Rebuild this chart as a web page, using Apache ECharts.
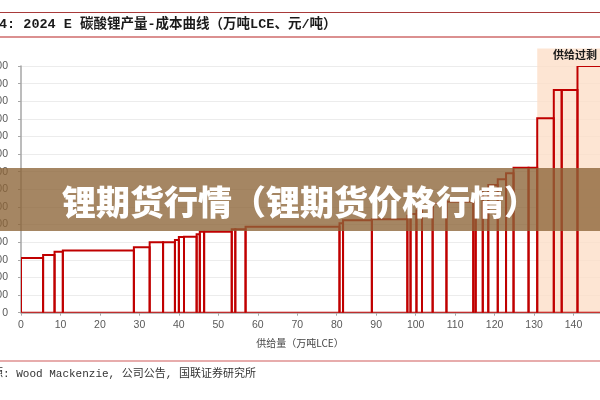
<!DOCTYPE html>
<html><head><meta charset="utf-8">
<script src="https://cdn.jsdelivr.net/npm/echarts@6/dist/echarts.min.js"></script>
<style>html,body{margin:0;padding:0;background:#fff}#c{width:600px;height:400px}</style>
</head><body><div id="c"></div>
<script>
// cumulative supply boundaries (万吨LCE) and unit cost (元/吨) of each project
const supplyBounds = [0, 5.6, 8.5, 10.6, 28.6, 32.6, 36.0, 39.0, 40.0, 41.3, 44.5, 45.3, 46.4, 53.4, 54.3, 56.9, 80.7, 81.6, 88.9, 97.9, 98.7, 100.2, 101.6, 104.3, 107.8, 114.6, 115.2, 117.0, 118.4, 120.8, 122.9, 124.8, 128.6, 130.8, 135.0, 137.0, 141.0, 148.0];
const unitCost = [31000, 32700, 34600, 35300, 37200, 40000, 40000, 41200, 43000, 43100, 44500, 46000, 46000, 47300, 47300, 48800, 50800, 52500, 53000, 55000, 56000, 58000, 60000, 62000, 63000, 66000, 68000, 70000, 72500, 75700, 79100, 82300, 82300, 110300, 126400, 126400, 140000];
const xTicks = [0, 150, 10];       // min, max, interval
const yTicks = [0, 140000, 10000]; // min, max, interval
const surplusRange = [130.8, 150];
const surplusTop = 150000;
const surplusLabel = '供给过剩';
const titleText = '图表4: 2024 E 碳酸锂产量-成本曲线（万吨LCE、元/吨）';
const xAxisName = '供给量（万吨LCE）';
const sourceText = '资料来源: Wood Mackenzie, 公司公告, 国联证券研究所';
const bannerText = '锂期货行情（锂期货价格行情）';

const barData = unitCost.map((c, i) => [supplyBounds[i], supplyBounds[i + 1], c]);

const chart = echarts.init(document.getElementById('c'), null, {renderer: 'canvas'});
chart.setOption({
  animation: false,
  backgroundColor: '#fff',
  grid: {left: 21, top: 66, width: 592, height: 246.7, containLabel: false, outerBoundsMode: 'none'},
  xAxis: {
    type: 'value', min: xTicks[0], max: xTicks[1], interval: xTicks[2],
    axisLine: {show: true, lineStyle: {color: '#a6a6a6', width: 1.5}},
    axisTick: {show: true, length: 3, lineStyle: {color: '#a6a6a6'}},
    axisLabel: {color: '#595959', fontSize: 10.5, margin: 7, fontFamily: 'Liberation Sans'},
    splitLine: {show: false}
  },
  yAxis: {
    type: 'value', min: yTicks[0], max: yTicks[1], interval: yTicks[2],
    axisLine: {show: true, lineStyle: {color: '#a6a6a6', width: 1.5}},
    axisTick: {show: true, length: 3, lineStyle: {color: '#a6a6a6'}},
    axisLabel: {color: '#595959', fontSize: 10.5, margin: 13, fontFamily: 'Liberation Sans',
      formatter: v => v.toLocaleString('en-US')},
    splitLine: {show: true, lineStyle: {color: '#ececec', width: 1}}
  },
  series: [
    {
      type: 'custom', z: 1, clip: false, silent: true,
      data: [[surplusRange[0], surplusRange[1], surplusTop]],
      encode: {x: [0, 1], y: 2},
      renderItem: (params, api) => {
        const p0 = api.coord([api.value(0), api.value(2)]);
        const p1 = api.coord([api.value(1), 0]);
        const mid = api.coord([(api.value(0) + api.value(1)) / 2, (api.value(2) + yTicks[1]) / 2 + 1200]);
        return {type: 'group', children: [
          {type: 'rect', shape: {x: p0[0], y: p0[1], width: p1[0] - p0[0], height: p1[1] - p0[1]},
           style: {fill: 'rgba(252,222,200,0.8)'}},
          {type: 'text', style: {text: surplusLabel, x: mid[0], y: mid[1], align: 'center', verticalAlign: 'middle',
            fill: '#1a1a1a', font: 'bold 11px "Noto Sans CJK SC"'}}
        ]};
      }
    },
    {
      type: 'custom', z: 3, clip: true, silent: true,
      data: barData,
      encode: {x: [0, 1], y: 2},
      renderItem: (params, api) => {
        const p0 = api.coord([api.value(0), api.value(2)]);
        const p1 = api.coord([api.value(1), 0]);
        return {type: 'rect', shape: {x: p0[0], y: p0[1], width: p1[0] - p0[0], height: p1[1] - p0[1]},
          style: {fill: null, stroke: '#c00000', lineWidth: 2}};
      }
    }
  ],
  graphic: [
    {type: 'line', z: 10, shape: {x1: 0, y1: 12.5, x2: 600, y2: 12.5}, style: {stroke: '#a83a3a', lineWidth: 1.2}},
    {type: 'text', z: 10, x: -28, y: 25, style: {text: titleText, verticalAlign: 'middle',
      font: 'bold 13.5px "Liberation Mono", "Noto Sans CJK SC"', fill: '#1a1a1a'}},
    {type: 'line', z: 10, shape: {x1: 0, y1: 37, x2: 600, y2: 37}, style: {stroke: '#cf6b6b', lineWidth: 1.5}},
    {type: 'text', z: 10, x: 300, y: 343, style: {text: xAxisName, align: 'center', verticalAlign: 'middle',
      font: '10px "Noto Sans CJK SC"', fill: '#444'}},
    {type: 'line', z: 10, shape: {x1: 0, y1: 361, x2: 600, y2: 361}, style: {stroke: '#d05a5a', lineWidth: 1.2}},
    {type: 'text', z: 10, x: -41, y: 374, style: {text: sourceText, verticalAlign: 'middle',
      font: '11px "Liberation Mono", "Noto Sans CJK SC"', fill: '#333'}},
    {type: 'rect', z: 20, shape: {x: 0, y: 168, width: 600, height: 63}, style: {fill: 'rgba(140,100,55,0.78)'}},
    {type: 'text', z: 21, x: 300, y: 202, style: {text: bannerText, align: 'center', verticalAlign: 'middle',
      font: '900 34px "Noto Sans CJK SC"', fill: '#ffffff'}}
  ]
});
</script></body></html>
